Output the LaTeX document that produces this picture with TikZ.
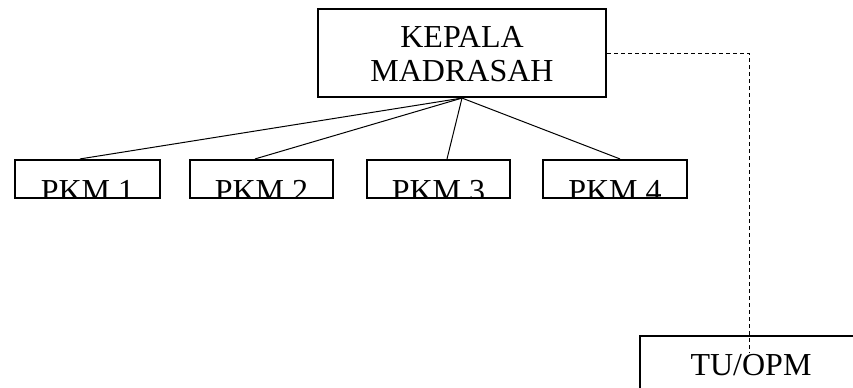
\documentclass[tikz,border=0pt]{standalone}
\usepackage{fontspec}
\setmainfont{Liberation Serif}
\usepackage{tikz}
\usetikzlibrary{calc}

\begin{document}
\begin{tikzpicture}[x=0.75pt,y=-0.75pt,
    kotak/.style={draw,line width=1.6pt,inner sep=0pt},
    tulisan/.style={font=\fontsize{24}{26}\selectfont,align=center,inner sep=0pt},
    garis/.style={line width=0.75pt},
    putus/.style={line width=0.75pt,dash pattern=on 3pt off 2.25pt}]
        \clip (0,0) rectangle (853,387);
        \node[kotak,minimum width=288*0.75pt,minimum height=88*0.75pt] (kepala) at (462,53){};
        \node[tulisan] at ($(kepala)+(0,1)$){KEPALA\\MADRASAH};

        % kotak PKM, tulisannya terpotong di sisi bawah
        \foreach \i/\xc/\w/\dx in {1/87.5/145/-7.5, 2/261.5/143/-6.5, 3/438.5/143/8.5, 4/615/144/5}{
            \node[kotak,minimum width=\w*0.75pt,minimum height=38*0.75pt] (pkm\i) at (\xc,179){};
            \begin{scope}
                \clip (pkm\i.north west) rectangle ($(pkm\i.south east)+(0,-1)$);
                \node[tulisan,anchor=base] at ($(pkm\i.south)+(0,2)$){PKM \i};
            \end{scope}
            \draw[garis] (kepala.south)--($(pkm\i.north)+(\dx,0)$);
        }

        \node[kotak,minimum width=224*0.75pt,minimum height=70*0.75pt,anchor=north west] (tu) at (639,335){};
        \coordinate (ujung) at (749,353);
        \draw[putus] (kepala.east) -| (ujung);
        \node[tulisan,anchor=base] at (751,375){TU/OPM};
    \end{tikzpicture}
\end{document}
